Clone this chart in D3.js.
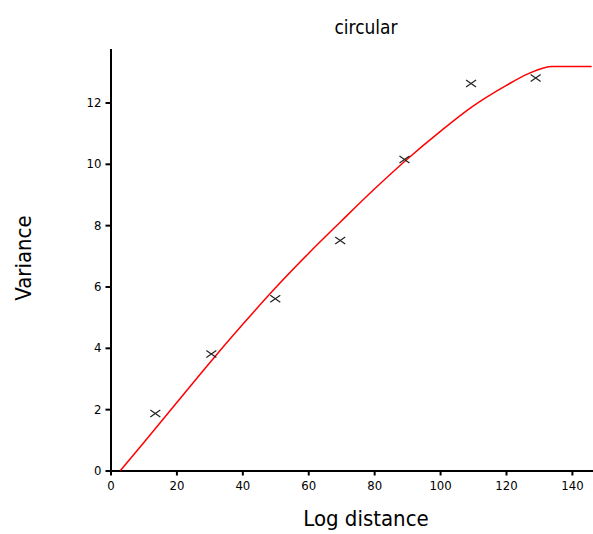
<!DOCTYPE html>
<html><head><meta charset="utf-8">
<script src="https://cdn.jsdelivr.net/npm/d3@7"></script>
<style>
body{margin:0;background:#fff;}
svg text{font-family:"DejaVu Sans Condensed","Liberation Sans Narrow",sans-serif;fill:#000;}
</style></head>
<body><svg id="c" width="593" height="534"></svg>
<script>
const title = "circular";
const xLabel = "Log distance";
const yLabel = "Variance";
const xTicks = [0,20,40,60,80,100,120,140];
const yTicks = [0,2,4,6,8,10,12];
// observed points
const pointLag = [13.6,30.6,50,69.7,89.2,109.4,129];
const pointVar = [1.86,3.8,5.6,7.5,10.14,12.62,12.8];
// fitted model curve
const curveLag = [3,10,20,30,40,50,60,70,80,90,100,110,120,127,134,146];
const curveVar = [0,0.9,2.2,3.5,4.75,5.95,7.07,8.13,9.17,10.15,11.05,11.88,12.55,12.95,13.17,13.17];

const svg = d3.select("#c");
const x = d3.scaleLinear().domain([0,146.4]).range([110.5,593]);
const y = d3.scaleLinear().domain([0,13.76]).range([470.5,48.5]);

const xAxis = svg.append("g").attr("transform","translate(0,470.5)")
  .call(d3.axisBottom(x).tickValues(xTicks).tickSize(5).tickSizeOuter(0).tickFormat(d3.format("d")));
const yAxis = svg.append("g").attr("transform","translate(110.5,0)")
  .call(d3.axisLeft(y).tickValues(yTicks).tickSize(5).tickSizeOuter(0).tickFormat(d3.format("d")));
[xAxis,yAxis].forEach(a=>{
  a.select(".domain").attr("stroke","#000").attr("stroke-width",2);
  a.selectAll(".tick line").attr("stroke","#000").attr("stroke-width",2);
  a.selectAll(".tick text").attr("font-size",13).style("font-family",'"DejaVu Sans Condensed","Liberation Sans Narrow",sans-serif');
});
xAxis.selectAll(".tick text").attr("dy","0.9em");
yAxis.selectAll(".tick text").attr("x",-9);

const line = d3.line().x(d=>x(d[0])).y(d=>y(d[1])).curve(d3.curveMonotoneX);
svg.append("path").datum(curveLag.map((v,i)=>[v,curveVar[i]]))
  .attr("d",line).attr("fill","none").attr("stroke","#ff0000").attr("stroke-width",1.5);

const pts = pointLag.map((v,i)=>[v,pointVar[i]]);
const g = svg.append("g");
pts.forEach(p=>{
  const cx=x(p[0]), cy=y(p[1]);
  g.append("path").attr("d",`M${cx-5},${cy-3.5}L${cx+5},${cy+3.5}M${cx-5},${cy+3.5}L${cx+5},${cy-3.5}`)
   .attr("stroke","#222").attr("stroke-width",1.2).attr("fill","none");
});

svg.append("text").attr("x",366).attr("y",34).attr("text-anchor","middle").attr("font-size",19).text(title);
svg.append("text").attr("x",366).attr("y",526).attr("text-anchor","middle").attr("font-size",22).text(xLabel);
svg.append("text").attr("transform","translate(31,258) rotate(-90)").attr("text-anchor","middle").attr("font-size",22).text(yLabel);
</script></body></html>
